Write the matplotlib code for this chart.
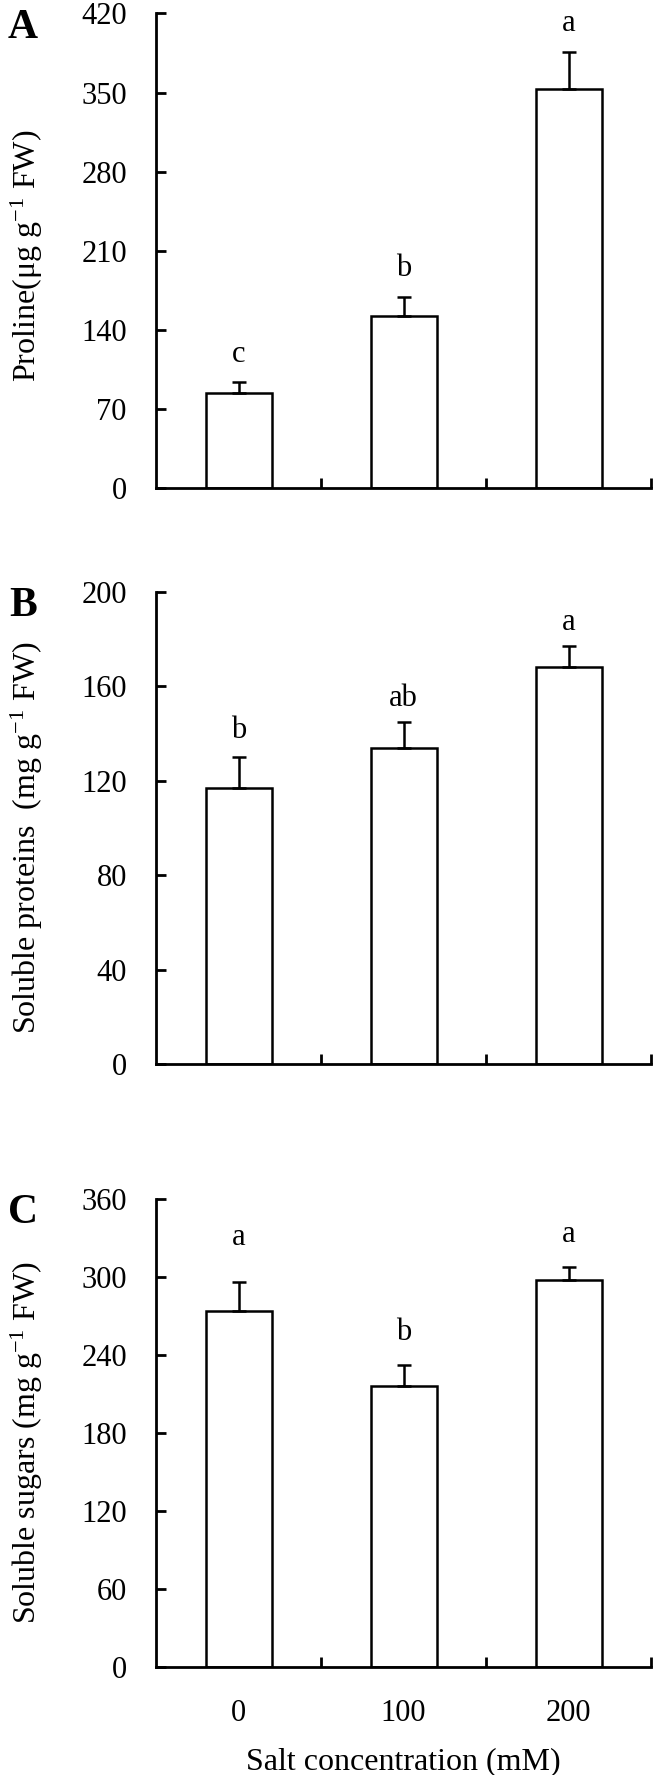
import matplotlib
matplotlib.use('Agg')
import matplotlib.pyplot as plt
import numpy as np

plt.rcParams['font.family'] = ['Liberation Serif', 'DejaVu Serif']
plt.rcParams['mathtext.fontset'] = 'custom'
plt.rcParams['mathtext.rm'] = 'Liberation Serif'
plt.rcParams['mathtext.it'] = 'Liberation Serif:italic'

# Data
salt_levels = ['0', '100', '200']

proline = [84, 152, 353]
proline_err = [10, 17, 33]
proline_letters = ['c', 'b', 'a']

proteins = [117, 134, 168]
proteins_err = [13, 11, 9]
proteins_letters = ['b', 'ab', 'a']

sugars = [274, 216, 298]
sugars_err = [22, 16, 10]
sugars_letters = ['a', 'b', 'a']

panels = [
    ('A', proline, proline_err, proline_letters, 'Proline(μg g$^{-1}$ FW)', 420, 70, [14, 15, 15]),
    ('B', proteins, proteins_err, proteins_letters, 'Soluble proteins  (mg g$^{-1}$ FW)', 200, 40, [14, 11, 12]),
    ('C', sugars, sugars_err, sugars_letters, 'Soluble sugars (mg g$^{-1}$ FW)', 360, 60, [27, 18, 18]),
]

# axes boxes (left, bottom, width, height) in figure fraction
boxes = [
    (0.2364, 0.7251, 0.75, 0.2673),
    (0.2364, 0.4006, 0.75, 0.2659),
    (0.2364, 0.0608, 0.75, 0.2637),
]
ylabel_y = [0.49, 0.48, 0.48]

fig = plt.figure(figsize=(6.6, 17.75), dpi=100)
fs = 22
x = np.arange(len(salt_levels)) + 0.5

for i, (tag, vals, errs, letters, ylab, ymax, step, offs) in enumerate(panels):
    ax = fig.add_axes(boxes[i])
    ax.bar(x, vals, 0.4, color='white', edgecolor='black', linewidth=1.8, zorder=2)
    ax.errorbar(x, vals, yerr=[np.zeros(len(errs)), errs], fmt='none',
                ecolor='black', elinewidth=1.8, capsize=5, capthick=1.8, zorder=3)
    for xi, v, e, lab, o in zip(x, vals, errs, letters, offs):
        ax.annotate(lab, xy=(xi, v + e), xytext=(0, o), textcoords='offset points',
                    ha='center', va='baseline', fontsize=fs)

    ax.set_xlim(0, 3)
    ax.set_ylim(0, ymax)
    ax.set_yticks(np.arange(0, ymax + 1, step))
    ax.tick_params(axis='y', direction='in', length=7, width=2, labelsize=fs, pad=21)
    ax.set_xticks(x)
    ax.set_xticks([1, 2, 3], minor=True)
    ax.tick_params(axis='x', which='major', length=0, labelsize=fs, pad=23)
    ax.tick_params(axis='x', which='minor', direction='in', length=7, width=2)
    if i < 2:
        ax.set_xticklabels([])
    else:
        ax.set_xticklabels(salt_levels)
        ax.set_xlabel('Salt concentration (mM)', fontsize=23, labelpad=14)

    for s in ['top', 'right']:
        ax.spines[s].set_visible(False)
    for s in ['left', 'bottom']:
        ax.spines[s].set_linewidth(2)

    ax.set_ylabel(ylab, fontsize=23)
    ax.yaxis.set_label_coords(-0.224, ylabel_y[i])

    ax.text(-0.269, 1.01, tag, transform=ax.transAxes, fontsize=30,
            fontweight='bold', ha='center', va='top')

fig.savefig('out.png', dpi=100)
